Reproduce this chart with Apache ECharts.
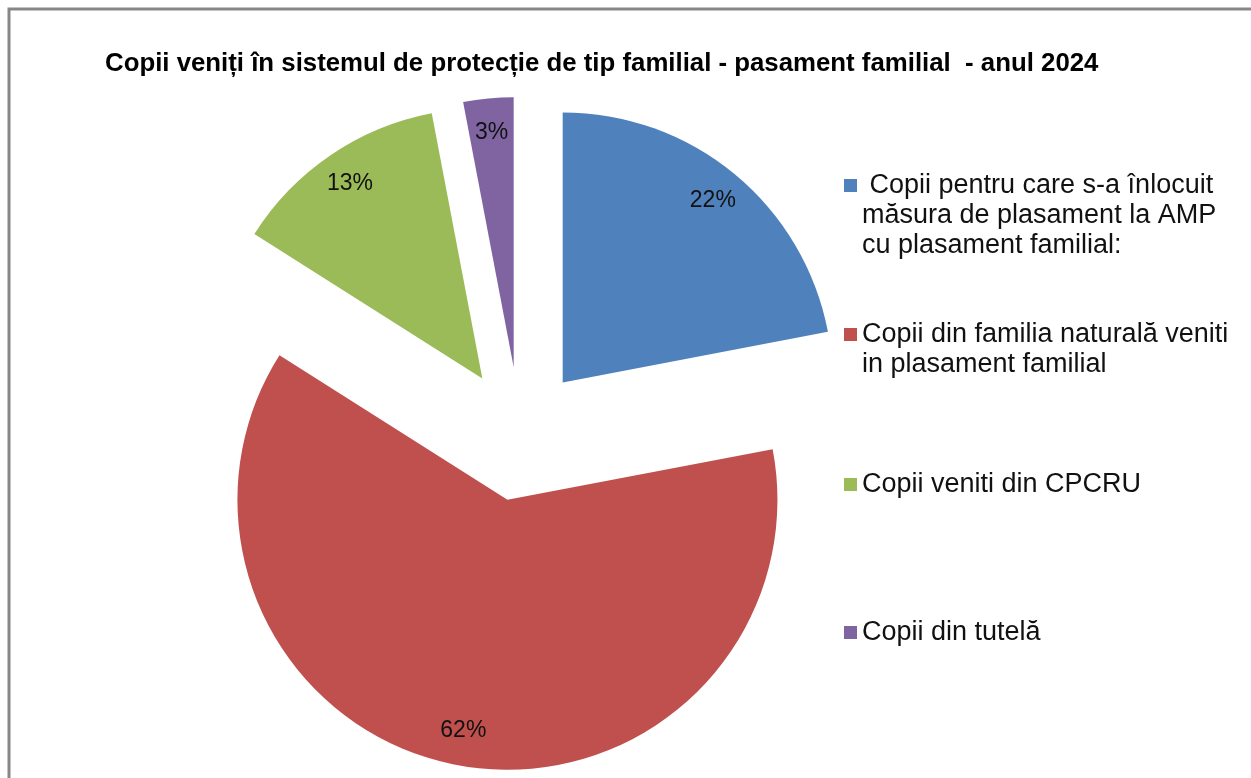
<!DOCTYPE html>
<html>
<head>
<meta charset="utf-8">
<script src="https://cdn.jsdelivr.net/npm/echarts@6/dist/echarts.min.js"></script>
<style>
html,body{margin:0;padding:0;background:#fff;}
#chart{width:1251px;height:778px;}
</style>
</head>
<body>
<div id="chart"></div>
<script>
// ---- data ----
const categories = [
  'Copii pentru care s-a înlocuit măsura de plasament la AMP cu plasament familial:',
  'Copii din familia naturală veniti in plasament familial',
  'Copii veniti din CPCRU',
  'Copii din tutelă'
];
const legendLabels = [
  ' Copii pentru care s-a înlocuit\nmăsura de plasament la AMP\ncu plasament familial:',
  'Copii din familia naturală veniti\nin plasament familial',
  'Copii veniti din CPCRU',
  'Copii din tutelă'
];
const values = [22, 62, 13, 3];
const colors = ['#4F81BD', '#C0504D', '#9BBB59', '#8064A2'];
const titleText = 'Copii veniți în sistemul de protecție de tip familial - pasament familial  - anul 2024';

// ---- chart ----
const chart = echarts.init(document.getElementById('chart'), null, {renderer: 'canvas'});

const center = [520, 434];
const R = 270;
const OFFSET = 67;
const LINE_H = 30;

const mainData = categories.map((c, i) => ({
  name: c, value: values[i], selected: true,
  itemStyle: {color: colors[i]}
}));
const labelData = categories.map((c, i) => ({
  name: c, value: values[i], selected: true
}));

// icon aligned with the first text line: prepend (lines-1) empty lines
const legendTops = [110.5, 289.5, 469.5, 617.5];
const legends = categories.map((c, i) => {
  const lines = legendLabels[i].split('\n').length;
  const txt = '\n'.repeat(lines - 1) + legendLabels[i];
  return {
    data: [c],
    orient: 'vertical',
    left: 844,
    top: legendTops[i],
    padding: 0,
    itemWidth: 13,
    itemHeight: 13,
    icon: 'rect',
    selectedMode: false,
    formatter: () => txt,
    textStyle: {
      fontFamily: 'Liberation Sans, Arial, sans-serif',
      fontSize: 27,
      color: '#111',
      lineHeight: LINE_H
    }
  };
});

chart.setOption({
  animation: false,
  backgroundColor: '#fff',
  title: {
    text: titleText,
    left: 105,
    top: 51,
    padding: 0,
    textStyle: {
      fontFamily: 'Liberation Sans, Arial, sans-serif',
      fontWeight: 'bold',
      fontSize: 25.8,
      color: '#000'
    }
  },
  legend: legends,
  graphic: [{
    type: 'rect',
    shape: {x: 9, y: 9, width: 1400, height: 1000},
    style: {fill: 'none', stroke: '#878787', lineWidth: 3},
    silent: true,
    z: 100
  }],
  series: [
    {
      type: 'pie',
      center: center,
      radius: [0, R],
      startAngle: 90,
      clockwise: true,
      selectedMode: 'multiple',
      selectedOffset: OFFSET,
      avoidLabelOverlap: false,
      label: {show: false},
      labelLine: {show: false},
      emphasis: {disabled: true},
      data: mainData
    },
    {
      type: 'pie',
      center: center,
      radius: [195, R],
      startAngle: 90,
      clockwise: true,
      selectedMode: 'multiple',
      selectedOffset: OFFSET,
      silent: true,
      avoidLabelOverlap: false,
      itemStyle: {color: 'rgba(0,0,0,0)'},
      emphasis: {disabled: true},
      labelLine: {show: false},
      label: {
        show: true,
        position: 'inside',
        formatter: p => Math.round(p.percent) + '%',
        fontFamily: 'Liberation Sans, Arial, sans-serif',
        fontSize: 23,
        color: '#111'
      },
      data: labelData
    }
  ]
});
</script>
</body>
</html>
